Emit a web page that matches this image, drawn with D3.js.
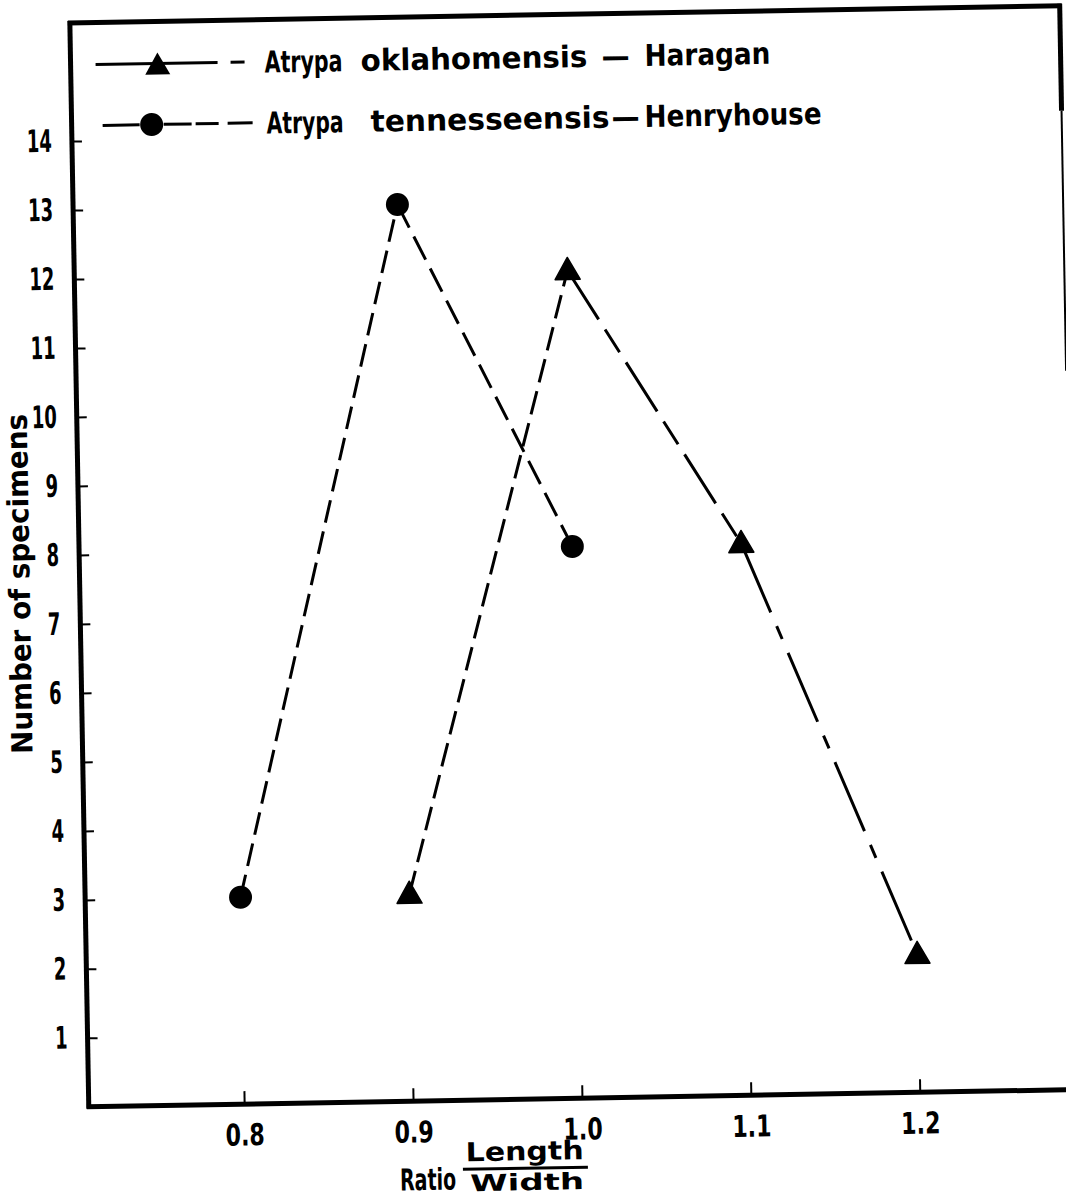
<!DOCTYPE html>
<html>
<head>
<meta charset="utf-8">
<script src="https://cdn.jsdelivr.net/npm/d3@7/dist/d3.min.js"></script>
<style>
body { margin: 0; background: #fff; }
svg text { font-family: "DejaVu Sans", "Liberation Sans", sans-serif; font-weight: bold; fill: #000; }
</style>
</head>
<body>
<div id="contenedor"></div>
<script>
// datos
const ratioTicks = [0.8, 0.9, 1.0, 1.1, 1.2]
const ratioLabels = ["0.8", "0.9", "1.0", "1.1", "1.2"]
const countTicks = [1, 2, 3, 4, 5, 6, 7, 8, 9, 10, 11, 12, 13, 14]

const haraganRatio = [0.9, 1.0, 1.1, 1.2]
const haraganCount = [3, 12, 8, 2]
const henryRatio = [0.8, 0.9, 1.0]
const henryCount = [3, 13, 8]

const legendGenus = ["Atrypa", "Atrypa"]
const legendSpecies = ["oklahomensis", "tennesseensis"]
const legendFormation = ["Haragan", "Henryhouse"]

const yTitle = "Number of specimens"
const xTitle = "Ratio"
const xNum = "Length"
const xDen = "Width"

ancho = 1066
alto = 1200

svg = d3.select("#contenedor")
    .append("svg")
    .attr("width", ancho)
    .attr("height", alto)

// la hoja escaneada esta un poco girada
g = svg.append("g").attr("transform", "rotate(-1, 533, 600)")

// ESCALAS
x = d3.scaleLinear().domain([0.708, 1.3]).range([80, 1080])
y = d3.scaleLinear().domain([0, 15.64]).range([1099, 20])

// texto estrechado hasta un ancho dado (la rotulacion original es estrecha)
function rotulo(padre, texto, px, py, tam, anchoObj, ancla) {
    t = padre.append("text")
        .attr("font-size", tam)
        .attr("text-anchor", ancla || "start")
        .text(texto)
    w = t.node().getComputedTextLength()
    t.attr("transform", "translate(" + px + "," + py + ") scale(" + (anchoObj / w) + ",1)")
    return t
}

// marco
marco = [
    [80, 13, 80, 1101, 5],
    [78, 1099, 1095, 1099, 5],
    [78, 15, 1072, 15, 5],
    [1070, 13, 1070, 120, 5],
    [1070, 120, 1070, 380, 2]
]
g.selectAll("line.marco")
    .data(marco)
    .enter()
    .append("line")
    .attr("class", "marco")
    .attr("x1", d => d[0]).attr("y1", d => d[1])
    .attr("x2", d => d[2]).attr("y2", d => d[3])
    .attr("stroke", "#000")
    .attr("stroke-width", d => d[4])

// EJES
ejeY = d3.axisLeft(y)
    .tickValues(countTicks)
    .tickFormat(d3.format("d"))
    .tickSizeInner(-10)
    .tickSizeOuter(0)
    .tickPadding(20)

gy = g.append("g")
    .attr("transform", "translate(80,0)")
    .call(ejeY)
gy.select(".domain").remove()
gy.selectAll("line").attr("stroke", "#000").attr("stroke-width", 2)
gy.selectAll("text")
    .attr("font-size", 31)
    .attr("fill", "#000")
    .attr("x", -20 / 0.58)
    .attr("transform", "scale(0.58,1)")

ejeX = d3.axisBottom(x)
    .tickValues(ratioTicks)
    .tickFormat((d, i) => ratioLabels[i])
    .tickSizeInner(-13)
    .tickSizeOuter(0)
    .tickPadding(20)

gx = g.append("g")
    .attr("transform", "translate(0,1099)")
    .call(ejeX)
gx.select(".domain").remove()
gx.selectAll("line").attr("stroke", "#000").attr("stroke-width", 2)
gx.selectAll("text")
    .attr("font-size", 30)
    .attr("fill", "#000")
    .attr("transform", "scale(0.74,1)")

// titulos
g.append("text")
    .attr("transform", "translate(30,575) rotate(-90)")
    .attr("text-anchor", "middle")
    .attr("font-size", 29)
    .attr("textLength", 340)
    .attr("lengthAdjust", "spacingAndGlyphs")
    .text(yTitle)

rotulo(g, xTitle, 390, 1188, 30, 56)
rotulo(g, xNum, 456, 1160, 26, 118)
g.append("line")
    .attr("x1", 453).attr("x2", 578)
    .attr("y1", 1168).attr("y2", 1168)
    .attr("stroke", "#000").attr("stroke-width", 3)
rotulo(g, xDen, 460, 1190, 23, 114)

// SERIES
haragan = haraganRatio.map((r, i) => ({r: r, c: haraganCount[i]}))
henry = henryRatio.map((r, i) => ({r: r, c: henryCount[i]}))

// tramos con su trazo propio (lineas dibujadas a mano en el original)
haraganDash = ["24,9", "58,12,27,12", "75,15,14,15"]
henryDash = ["23,9", "26,10"]

linea = d3.line().x(d => x(d.r)).y(d => y(d.c))

function tramos(puntos, trazos, clase) {
    g.selectAll("path." + clase)
        .data(d3.pairs(puntos))
        .enter()
        .append("path")
        .attr("class", clase)
        .attr("d", d => linea(d))
        .attr("fill", "none")
        .attr("stroke", "#000")
        .attr("stroke-width", 3)
        .attr("stroke-dasharray", (d, i) => trazos[i])
}
tramos(henry, henryDash, "henry")
tramos(haragan, haraganDash, "haragan")

triangulo = "M0,-13L12.5,9L-12.5,9Z"

g.selectAll("circle.henry")
    .data(henry)
    .enter()
    .append("circle")
    .attr("class", "henry")
    .attr("cx", d => x(d.r))
    .attr("cy", d => y(d.c))
    .attr("r", 11.5)
    .attr("fill", "#000")

g.selectAll("path.tri")
    .data(haragan)
    .enter()
    .append("path")
    .attr("class", "tri")
    .attr("d", triangulo)
    .attr("transform", d => "translate(" + x(d.r) + "," + y(d.c) + ")")
    .attr("fill", "#000")
    .attr("stroke", "#000")
    .attr("stroke-width", 1.5)
    .attr("stroke-linejoin", "round")

// LEYENDA
leyenda = g.append("g")

// fila 1: triangulo
leyenda.selectAll("line.l1")
    .data([[105, 227], [240, 254]])
    .enter()
    .append("line")
    .attr("x1", d => d[0]).attr("x2", d => d[1])
    .attr("y1", 57).attr("y2", 57)
    .attr("stroke", "#000").attr("stroke-width", 3)
leyenda.append("path")
    .attr("d", triangulo)
    .attr("transform", "translate(167,59)")
    .attr("fill", "#000")

// fila 2: circulo
leyenda.selectAll("line.l2")
    .data([[111, 148], [172, 200], [204, 227], [236, 261]])
    .enter()
    .append("line")
    .attr("x1", d => d[0]).attr("x2", d => d[1])
    .attr("y1", 118).attr("y2", 118)
    .attr("stroke", "#000").attr("stroke-width", 3)
leyenda.append("circle")
    .attr("cx", 160).attr("cy", 118).attr("r", 11.5)
    .attr("fill", "#000")

filas = [
    {y: 68, piezas: [[274, 78, legendGenus[0]], [370, 227, legendSpecies[0]], [611, 28, "—"], [654, 126, legendFormation[0]]]},
    {y: 129, piezas: [[275, 77, legendGenus[1]], [379, 239, legendSpecies[1]], [620, 28, "—"], [653, 177, legendFormation[1]]]}
]
filas.forEach(f => {
    f.piezas.forEach(p => rotulo(leyenda, p[2], p[0], f.y, 30, p[1]))
})
</script>
</body>
</html>
